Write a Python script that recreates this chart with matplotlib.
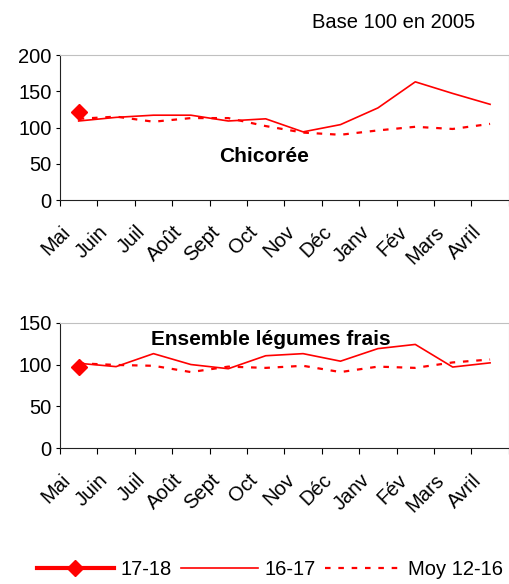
import matplotlib
matplotlib.use("Agg")
import matplotlib.pyplot as plt
from matplotlib.lines import Line2D
from matplotlib.transforms import ScaledTranslation

plt.rcParams['font.family'] = ['Liberation Sans', 'DejaVu Sans']

months = ["Mai", "Juin", "Juil", "Août", "Sept", "Oct", "Nov", "Déc",
          "Janv", "Fév", "Mars", "Avril"]

# Chicorée
chic_1718 = [122]
chic_1617 = [109, 114, 117, 117, 109, 112, 94, 104, 127, 163, 147, 132]
chic_moy = [112, 115, 108, 113, 113, 102, 93, 90, 96, 101, 98, 105]

# Ensemble légumes frais
leg_1718 = [97.5]
leg_1617 = [101.5, 97.5, 113, 100, 95, 110.5, 113, 104, 119, 124, 97, 102]
leg_moy = [101.5, 99.5, 98.5, 91, 97.5, 96, 98.5, 91, 97.5, 96, 102.5, 106]

RED = "#ff0000"
FS = 14.5
DOT = (0, (2.5, 3.5))

fig = plt.figure(figsize=(5.1, 5.84), dpi=100)
ax1 = fig.add_axes([0.1176, 0.6575, 0.880, 0.2483])
ax2 = fig.add_axes([0.1176, 0.2324, 0.880, 0.2151])


def draw_panel(ax, v1718, v1617, vmoy, ymax, title, title_y, title_x):
    x = list(range(len(months)))
    ax.plot(x, vmoy, color=RED, lw=1.6, linestyle=DOT)
    ax.plot(x, v1617, color=RED, lw=1.2)
    ax.plot(x[:len(v1718)], v1718, color=RED, lw=2.5, marker="D", markersize=8)

    ax.set_xlim(-0.5, len(months) - 0.5)
    ax.set_ylim(0, ymax)
    ax.set_yticks(range(0, ymax + 1, 50))
    ax.tick_params(axis="y", labelsize=FS, length=3, direction="out", pad=3)

    ax.set_xticks([i - 0.5 for i in range(len(months) + 1)])
    ax.set_xticklabels([])
    ax.tick_params(axis="x", which="major", length=4, direction="out")
    ax.set_xticks(x, minor=True)
    ax.set_xticklabels(months, minor=True, rotation=45, ha="right",
                       va="top", rotation_mode="anchor", fontsize=FS)
    ax.tick_params(axis="x", which="minor", length=0, pad=16)
    shift = ScaledTranslation(-13 / 72, 0, fig.dpi_scale_trans)
    for lab in ax.get_xticklabels(minor=True):
        lab.set_transform(lab.get_transform() + shift)

    for s in ("top", "right"):
        ax.spines[s].set_color("#c0c0c0")
    for s in ("left", "bottom"):
        ax.spines[s].set_color("#222222")

    ax.text(title_x, title_y, title, transform=ax.transAxes, ha="center",
            va="center", fontsize=15, fontweight="bold")


draw_panel(ax1, chic_1718, chic_1617, chic_moy, 200, "Chicorée", 0.297, 0.454)
draw_panel(ax2, leg_1718, leg_1617, leg_moy, 150, "Ensemble légumes frais",
           0.862, 0.47)

fig.text(0.772, 0.961, "Base 100 en 2005", ha="center", va="center", fontsize=FS)

handles = [
    Line2D([], [], color=RED, lw=3, marker="D", markersize=8),
    Line2D([], [], color=RED, lw=1.2),
    Line2D([], [], color=RED, lw=1.6, linestyle=DOT),
]
fig.legend(handles, ["17-18", "16-17", "Moy 12-16"], loc="lower center",
           bbox_to_anchor=(0.53, -0.022), ncol=3, frameon=False, fontsize=FS,
           handlelength=3.8, handletextpad=0.35, columnspacing=0.45)

fig.savefig("out.png", dpi=100)
